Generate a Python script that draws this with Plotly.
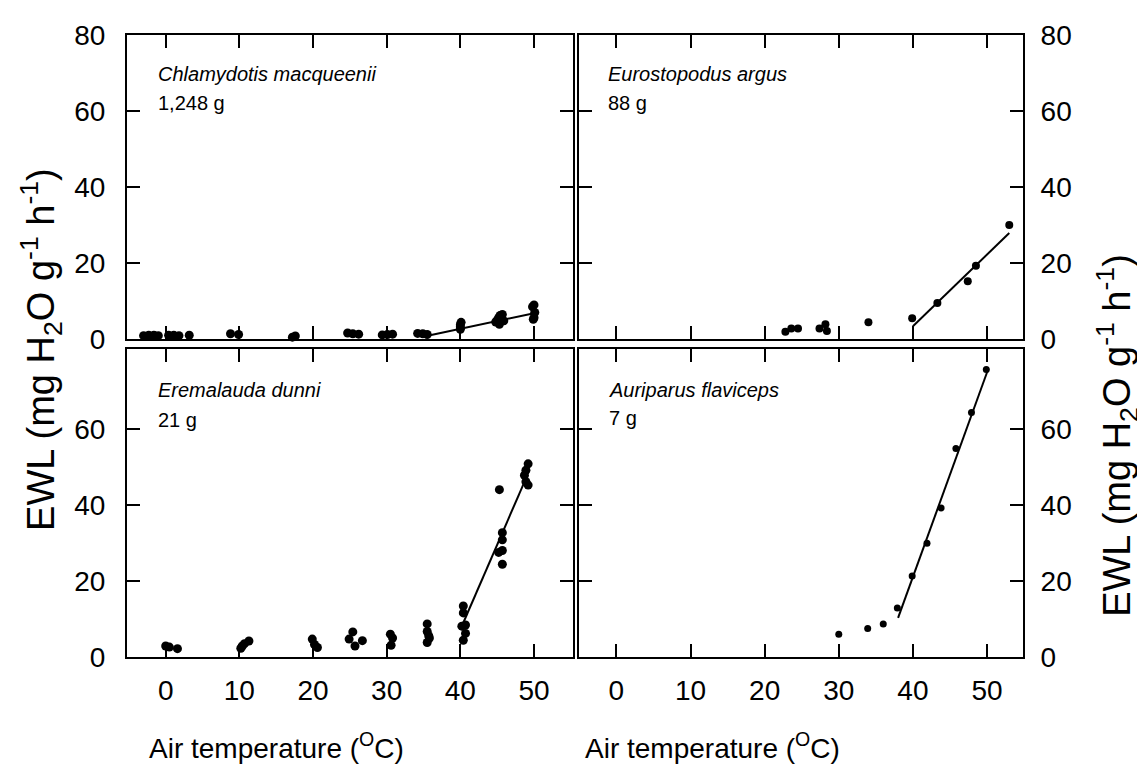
import plotly.graph_objects as go

# ---------------- data ----------------
# Chlamydotis macqueenii (top-left)
cm_T = [-3.0, -2.3, -1.6, -1.0, 0.4, 1.1, 1.8, 3.2, 8.8, 9.9, 17.2, 17.6,
        24.7, 25.4, 26.2, 29.4, 30.1, 30.8, 34.2, 34.9, 35.5,
        40.0, 40.0, 40.0, 40.1, 44.8, 45.0, 45.2, 45.4, 45.6, 45.9, 45.3, 45.7,
        50.0, 49.8, 50.1, 50.0, 49.9]
cm_E = [0.9, 1.0, 1.0, 0.9, 1.0, 1.0, 0.9, 1.0, 1.4, 1.2, 0.5, 0.8,
        1.6, 1.4, 1.3, 1.1, 1.2, 1.3, 1.5, 1.4, 1.2,
        2.6, 3.2, 3.8, 4.4, 4.5, 5.0, 5.6, 6.2, 5.3, 4.8, 3.9, 6.5,
        9.0, 8.5, 7.0, 5.6, 5.2]
cm_fit_T = [35.4, 50.0]
cm_fit_E = [0.8, 6.8]

# Eurostopodus argus (top-right)
ea_T = [22.8, 23.6, 24.5, 27.4, 28.2, 28.4, 34.0, 39.9, 43.3, 47.4, 48.5, 53.0]
ea_E = [1.9, 2.8, 2.8, 2.8, 3.9, 2.1, 4.4, 5.5, 9.5, 15.2, 19.3, 30.0]
ea_fit_T = [40.0, 53.0]
ea_fit_E = [3.4, 27.9]

# Eremalauda dunni (bottom-left)
ed_T = [0.0, 0.5, 1.6, 10.2, 10.4, 10.7, 11.3, 19.9, 20.2, 20.6,
        24.9, 25.4, 25.7, 26.7, 30.5, 30.8, 30.6,
        35.5, 35.5, 35.7, 35.8, 35.5,
        40.4, 40.4, 40.2, 40.7, 40.7, 40.4,
        45.3, 45.7, 45.7, 45.2, 45.7, 45.7,
        49.2, 48.9, 48.7, 48.9, 49.2]
ed_E = [2.9, 2.6, 2.2, 2.3, 2.9, 3.5, 4.2, 4.7, 3.3, 2.5,
        4.7, 6.6, 2.9, 4.3, 6.0, 5.0, 3.1,
        8.7, 6.7, 5.6, 5.0, 3.8,
        13.4, 11.6, 8.1, 8.4, 6.2, 4.4,
        44.0, 32.7, 30.8, 27.5, 28.0, 24.4,
        50.8, 49.1, 47.8, 46.1, 45.2]
ed_fit_T = [40.4, 48.6]
ed_fit_E = [9.0, 45.6]

# Auriparus flaviceps (bottom-right)
af_T = [30.0, 33.9, 36.0, 37.9, 39.9, 41.9, 43.8, 45.8, 47.9, 49.9]
af_E = [6.0, 7.5, 8.7, 12.9, 21.3, 29.9, 39.2, 54.8, 64.3, 75.6]
af_fit_T = [38.0, 50.1]
af_fit_E = [10.3, 75.4]

x_ticks = [0, 10, 20, 30, 40, 50]
y_ticks_top = [0, 20, 40, 60, 80]
y_ticks_bottom = [0, 20, 40, 60]

species = ["Chlamydotis macqueenii", "Eurostopodus argus", "Eremalauda dunni", "Auriparus flaviceps"]
masses = ["1,248 g", "88 g", "21 g", "7 g"]

# ---------------- figure ----------------
FONT = "Liberation Sans, Arial, Helvetica, sans-serif"
W, H = 1145, 774
DX, DY = -7, -7
ML, MR, MT, MB = 126 + DX, 123 - DX, 26 + DY, 118 - DY
PW, PH = W - ML - MR, H - MT - MB


def px(x):
    return (x + DX - ML) / PW


def py(y):
    return (H - MB - (y + DY)) / PH


fig = go.Figure()

panels = [
    (cm_T, cm_E, cm_fit_T, cm_fit_E, "x3", "y3", 9),
    (ea_T, ea_E, ea_fit_T, ea_fit_E, "x4", "y4", 8),
    (ed_T, ed_E, ed_fit_T, ed_fit_E, "x", "y", 9),
    (af_T, af_E, af_fit_T, af_fit_E, "x2", "y2", 7),
]
for T, E, fT, fE, xa, ya, ms in panels:
    fig.add_trace(go.Scatter(x=T, y=E, mode="markers", xaxis=xa, yaxis=ya,
                             marker=dict(color="black", size=ms), showlegend=False,
                             cliponaxis=False))
    fig.add_trace(go.Scatter(x=fT, y=fE, mode="lines", xaxis=xa, yaxis=ya,
                             line=dict(color="black", width=2), showlegend=False))

common = dict(showline=True, linecolor="black", linewidth=2, mirror="allticks",
              ticks="inside", ticklen=13, tickwidth=1.5, tickcolor="black",
              showgrid=False, zeroline=False,
              tickfont=dict(family=FONT, size=28, color="black"))

xl_dom = [0, px(571.7)]
xr_dom = [px(578.3), 1]
yt_dom = [py(334), 1]
yb_dom = [0, py(344)]
xl_rng = [-5.25, 55.25]
xr_rng = [-5.0, 54.85]

fig.update_layout(
    width=W, height=H,
    margin=dict(l=ML, r=MR, t=MT, b=MB),
    plot_bgcolor="white", paper_bgcolor="white",
    font=dict(family=FONT, color="black"),
    xaxis=dict(domain=xl_dom, anchor="y", range=xl_rng, tickvals=x_ticks,
               ticklabelstandoff=7, **common),
    xaxis2=dict(domain=xr_dom, anchor="y2", range=xr_rng, tickvals=x_ticks,
                ticklabelstandoff=7, **common),
    xaxis3=dict(domain=xl_dom, anchor="y3", range=xl_rng, tickvals=x_ticks,
                showticklabels=False, **common),
    xaxis4=dict(domain=xr_dom, anchor="y4", range=xr_rng, tickvals=x_ticks,
                showticklabels=False, **common),
    yaxis=dict(domain=yb_dom, anchor="x", range=[0, 81], tickvals=y_ticks_bottom,
               side="left", ticklabelstandoff=14, **common),
    yaxis2=dict(domain=yb_dom, anchor="x2", range=[0, 81], tickvals=y_ticks_bottom,
                side="right", ticklabelstandoff=10, **common),
    yaxis3=dict(domain=yt_dom, anchor="x3", range=[0, 80], tickvals=y_ticks_top,
                side="left", ticklabelstandoff=14, **common),
    yaxis4=dict(domain=yt_dom, anchor="x4", range=[0, 80], tickvals=y_ticks_top,
                side="right", ticklabelstandoff=10, **common),
)

ann = []
label_pos = [(155, 65, 95), (605, 65, 95), (155, 386, 416), (606, 386, 414)]
for (sx, sy, my), sp, m in zip(label_pos, species, masses):
    ann.append(dict(x=px(sx), y=py(sy), xref="paper", yref="paper", xanchor="left",
                    yanchor="middle", text=f"<i>{sp}</i>", showarrow=False,
                    font=dict(family=FONT, size=20, color="black")))
    ann.append(dict(x=px(sx), y=py(my), xref="paper", yref="paper", xanchor="left",
                    yanchor="middle", text=m, showarrow=False,
                    font=dict(family=FONT, size=20, color="black")))

xtitle = "Air temperature (<sup>O</sup>C)"
ytitle = "EWL (mg H<sub>2</sub>O g<sup>-1</sup> h<sup>-1</sup>)"
for cx in (275.5, 711.5):
    ann.append(dict(x=px(cx), y=py(746), xref="paper", yref="paper", xanchor="center",
                    yanchor="middle", text=xtitle, showarrow=False,
                    font=dict(family=FONT, size=28, color="black")))
for cx, cy in ((40, 345), (1116, 432)):
    ann.append(dict(x=px(cx), y=py(cy), xref="paper", yref="paper", xanchor="center",
                    yanchor="middle", text=ytitle, showarrow=False, textangle=-90,
                    font=dict(family=FONT, size=38, color="black")))
fig.update_layout(annotations=ann)

fig.write_html("out.html")
